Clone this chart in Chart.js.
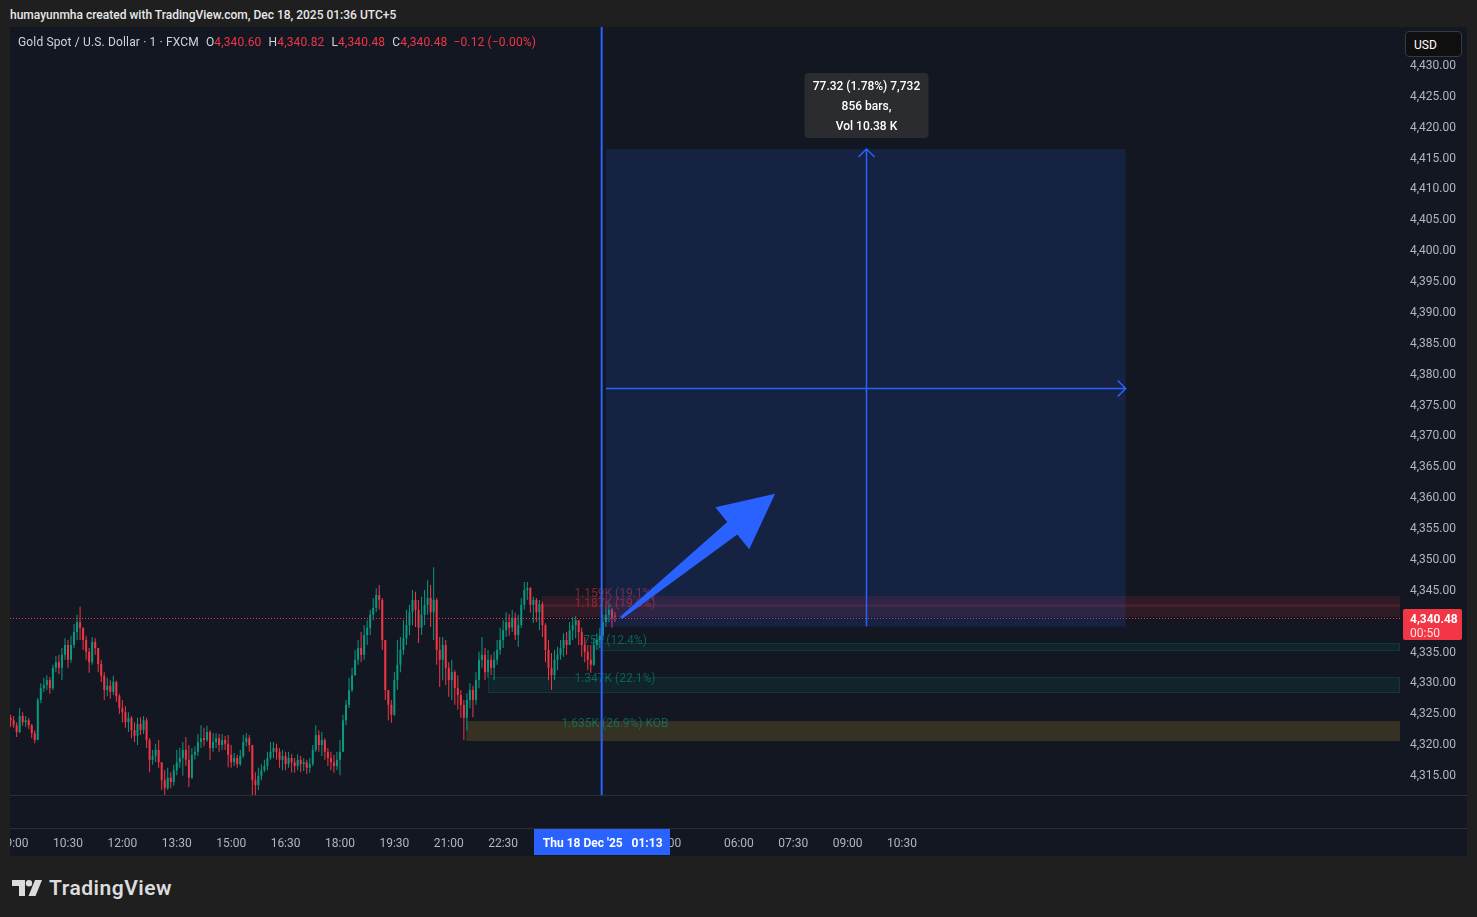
<!DOCTYPE html>
<html>
<head>
<meta charset="utf-8">
<title>XAUUSD 1m - FXCM</title>
<script src="https://cdn.jsdelivr.net/npm/chart.js@4.4.1/dist/chart.umd.min.js"></script>
<style>
  html, body { margin: 0; padding: 0; }
  body { width: 1477px; height: 917px; background: #1f1f1f; font-family: Roboto, "Noto Sans", sans-serif; position: relative; overflow: hidden; }
  #credit { position: absolute; left: 10px; top: 8px; font-size: 12px; font-weight: 500; color: #e8e8e8; white-space: nowrap; }
  #frame { position: absolute; left: 10px; top: 27px; width: 1457px; height: 829px; background: #131722; }
  #chart { position: absolute; left: 0; top: 0; }
  #legend { position: absolute; left: 8px; top: 7px; font-size: 12px; line-height: 16px; letter-spacing: 0.15px; color: #d1d4dc; white-space: nowrap; }
  #legend .k { margin-left: 7px; }
  #legend .v, #legend .chg { color: #f23645; }
  #legend .chg { margin-left: 6px; }
  #usd { position: absolute; left: 1395px; top: 4px; width: 57px; height: 26px; box-sizing: border-box; background: #0f0f0f; border: 1px solid #363a45; border-radius: 4px; color: #fff; font-size: 12px; line-height: 26px; padding-left: 8px; }
  #logo { position: absolute; left: 12px; top: 878px; height: 20px; display: flex; align-items: center; color: #dcdcdc; }
  #logo span { font-size: 21px; font-weight: 600; margin-left: 7px; letter-spacing: 0.5px; }
</style>
</head>
<body>
<div id="credit">humayunmha created with TradingView.com, Dec 18, 2025 01:36 UTC+5</div>
<div id="frame">
  <canvas id="chart" width="1457" height="829"></canvas>
  <div id="legend"></div>
  <div id="usd">USD</div>
</div>
<div id="logo">
  <svg width="30" height="16" viewBox="0 0 30 16">
    <path d="M0 0h13v16h-6v-10h-7z" fill="#dcdcdc"/>
    <circle cx="17" cy="3.2" r="3.2" fill="#dcdcdc"/>
    <path d="M23 0h7l-6.5 16h-7z" fill="#dcdcdc"/>
  </svg>
  <span>TradingView</span>
</div>
<script>
// 5-minute candles, first bar at 08:55 (minute -5 from 09:00 Dec 17)
const firstMinute = -5;
const barStep = 5;

const opens = [
  4324.1, 4323.7, 4322.9, 4321.8, 4324.4, 4323.4, 4323.7, 4322.9, 4321.6, 4320.5,
  4327.0, 4328.9, 4329.4, 4330.2, 4328.9, 4332.2, 4333.1, 4332.2, 4334.3, 4335.9,
  4333.5, 4335.9, 4338.0, 4339.6, 4338.7, 4336.7, 4334.8, 4333.1, 4336.4, 4335.4,
  4332.8, 4330.9, 4328.6, 4329.3, 4328.3, 4329.9, 4327.6, 4325.7, 4325.0, 4323.4,
  4324.1, 4322.1, 4321.2, 4323.1, 4322.1, 4323.7, 4320.5, 4317.3, 4317.9, 4318.9,
  4316.9, 4314.0, 4312.7, 4314.4, 4313.7, 4315.6, 4316.9, 4317.6, 4318.9, 4317.3,
  4314.4, 4318.1, 4318.6, 4320.2, 4320.8, 4320.5, 4321.8, 4319.2, 4320.2, 4320.8,
  4319.7, 4320.5, 4319.9, 4318.1, 4316.9, 4317.6, 4316.6, 4317.9, 4320.2, 4320.8,
  4319.7, 4314.0, 4313.2, 4314.7, 4315.6, 4316.3, 4317.6, 4318.6, 4319.2, 4318.6,
  4317.3, 4317.9, 4316.6, 4317.6, 4316.9, 4316.3, 4317.3, 4316.6, 4316.9, 4316.0,
  4316.6, 4318.9, 4321.3, 4319.7, 4320.5, 4318.6, 4317.6, 4316.9, 4316.3, 4317.3,
  4318.6, 4323.7, 4326.2, 4328.6, 4331.0, 4333.5, 4335.4, 4334.3, 4337.5, 4338.7,
  4340.8, 4341.9, 4344.0, 4343.2, 4336.7, 4328.6, 4326.2, 4324.6, 4330.2, 4332.7,
  4335.1, 4337.0, 4339.1, 4341.2, 4343.2, 4341.6, 4338.7, 4340.8, 4342.4, 4343.5,
  4341.2, 4343.2, 4335.1, 4333.5, 4335.9, 4332.2, 4330.2, 4331.5, 4328.9, 4327.8,
  4326.2, 4324.1, 4327.0, 4328.6, 4327.0, 4330.2, 4333.5, 4334.3, 4331.5, 4333.5,
  4332.2, 4333.5, 4335.1, 4336.7, 4338.3, 4339.6, 4338.7, 4340.3, 4337.5, 4339.1,
  4342.4, 4344.8, 4345.1, 4342.4, 4343.2, 4341.2, 4342.5, 4339.1, 4335.1, 4332.2,
  4331.0, 4333.5, 4334.3, 4335.4, 4336.7, 4335.9, 4338.3, 4339.1, 4339.9, 4338.0,
  4335.9, 4334.8, 4333.5, 4332.7, 4335.9, 4336.7, 4337.4, 4339.6, 4340.8, 4341.6,
  4340.60
];
const highs = [
  4324.6, 4324.4, 4323.4, 4325.7, 4325.0, 4324.4, 4324.1, 4323.1, 4322.1, 4327.3,
  4329.7, 4330.6, 4331.0, 4330.7, 4332.7, 4334.1, 4334.3, 4335.4, 4337.0, 4336.7,
  4337.4, 4339.3, 4340.8, 4342.1, 4338.7, 4337.4, 4335.4, 4337.2, 4337.0, 4335.4,
  4333.5, 4331.5, 4330.6, 4330.2, 4330.9, 4330.1, 4328.0, 4327.0, 4326.0, 4325.0,
  4324.4, 4323.4, 4324.1, 4324.2, 4324.4, 4324.1, 4320.8, 4318.9, 4319.9, 4320.5,
  4316.9, 4315.6, 4316.0, 4315.3, 4316.5, 4318.9, 4319.2, 4320.2, 4321.0, 4319.7,
  4319.2, 4319.5, 4321.5, 4322.9, 4322.5, 4322.8, 4322.1, 4321.6, 4321.6, 4321.5,
  4321.5, 4321.2, 4321.3, 4319.7, 4318.4, 4318.1, 4318.9, 4321.3, 4321.6, 4321.3,
  4319.7, 4315.3, 4316.0, 4316.6, 4317.3, 4318.6, 4320.2, 4320.2, 4319.9, 4319.2,
  4318.9, 4318.6, 4318.6, 4318.2, 4317.6, 4318.2, 4317.9, 4317.6, 4317.3, 4317.6,
  4319.7, 4322.9, 4322.1, 4321.8, 4320.8, 4319.2, 4318.6, 4318.1, 4318.6, 4320.5,
  4324.6, 4327.0, 4330.6, 4332.2, 4335.1, 4336.7, 4338.0, 4339.1, 4339.9, 4341.6,
  4343.5, 4345.1, 4345.6, 4343.5, 4336.7, 4328.6, 4327.0, 4331.5, 4336.7, 4337.2,
  4339.9, 4341.6, 4342.4, 4344.8, 4344.5, 4343.2, 4343.7, 4344.8, 4346.4, 4345.6,
  4348.5, 4343.5, 4337.2, 4337.2, 4336.7, 4333.1, 4333.5, 4331.8, 4331.0, 4328.6,
  4327.0, 4328.1, 4329.7, 4329.3, 4331.5, 4334.8, 4337.2, 4335.4, 4335.1, 4334.3,
  4334.8, 4336.7, 4338.7, 4339.9, 4341.2, 4340.9, 4341.6, 4341.1, 4340.8, 4343.5,
  4346.1, 4346.1, 4345.3, 4343.7, 4343.5, 4343.2, 4342.9, 4339.4, 4336.7, 4334.6,
  4335.1, 4335.6, 4336.7, 4337.8, 4338.0, 4339.6, 4340.4, 4340.6, 4339.9, 4338.7,
  4337.2, 4335.9, 4335.9, 4337.0, 4337.8, 4338.7, 4340.8, 4342.1, 4342.4, 4341.9,
  4341.2
];
const lows = [
  4322.6, 4322.5, 4321.0, 4321.6, 4322.8, 4322.6, 4322.3, 4320.8, 4320.0, 4320.5,
  4326.5, 4328.3, 4328.6, 4328.0, 4328.6, 4331.5, 4331.2, 4330.2, 4333.5, 4332.2,
  4333.0, 4335.4, 4336.7, 4336.7, 4335.1, 4333.5, 4331.4, 4332.7, 4334.3, 4331.5,
  4329.9, 4327.0, 4327.6, 4327.2, 4327.8, 4326.7, 4324.7, 4323.4, 4322.5, 4321.8,
  4320.8, 4320.2, 4319.7, 4321.3, 4321.5, 4319.2, 4315.3, 4316.5, 4316.9, 4316.0,
  4312.4, 4311.3, 4312.4, 4312.7, 4313.1, 4314.8, 4316.0, 4314.7, 4316.3, 4312.9,
  4314.2, 4317.3, 4317.9, 4319.2, 4319.5, 4320.2, 4317.3, 4318.6, 4319.2, 4318.6,
  4318.9, 4318.9, 4316.1, 4316.0, 4316.3, 4316.0, 4316.3, 4317.6, 4319.5, 4318.6,
  4311.6, 4311.3, 4312.4, 4314.0, 4315.3, 4315.6, 4317.3, 4317.6, 4317.3, 4316.0,
  4315.6, 4315.6, 4316.0, 4315.3, 4315.2, 4315.6, 4315.3, 4315.5, 4315.0, 4315.2,
  4316.3, 4318.6, 4318.6, 4317.9, 4317.3, 4316.3, 4315.6, 4315.2, 4315.6, 4314.8,
  4318.6, 4322.9, 4325.7, 4328.3, 4330.9, 4332.7, 4333.1, 4333.5, 4335.9, 4337.5,
  4339.9, 4341.2, 4341.6, 4335.1, 4327.0, 4323.7, 4323.3, 4324.4, 4328.6, 4331.5,
  4334.3, 4335.9, 4337.5, 4339.1, 4338.8, 4336.2, 4337.5, 4339.1, 4340.8, 4338.8,
  4336.7, 4332.7, 4329.1, 4330.2, 4329.4, 4327.5, 4327.0, 4326.2, 4325.4, 4324.1,
  4320.5, 4322.1, 4325.7, 4324.2, 4326.2, 4328.9, 4332.2, 4330.2, 4330.6, 4331.0,
  4330.2, 4332.7, 4334.3, 4335.4, 4337.2, 4337.4, 4338.0, 4336.7, 4335.6, 4338.7,
  4341.6, 4343.2, 4341.1, 4339.5, 4339.6, 4338.3, 4337.2, 4333.1, 4330.2, 4328.6,
  4330.2, 4331.8, 4333.5, 4334.0, 4334.3, 4335.9, 4336.7, 4337.0, 4335.9, 4334.0,
  4333.1, 4331.8, 4331.4, 4332.5, 4335.1, 4335.4, 4336.7, 4338.8, 4339.6, 4338.7,
  4339.6
];
const closes = [
  4323.7, 4322.9, 4321.8, 4324.4, 4323.4, 4323.7, 4322.9, 4321.6, 4320.5, 4327.0,
  4328.9, 4329.4, 4330.2, 4328.9, 4332.2, 4333.1, 4332.2, 4334.3, 4335.9, 4333.5,
  4335.9, 4338.0, 4339.6, 4338.7, 4336.7, 4334.8, 4333.1, 4336.4, 4335.4, 4332.8,
  4330.9, 4328.6, 4329.3, 4328.3, 4329.9, 4327.6, 4325.7, 4325.0, 4323.4, 4324.1,
  4322.1, 4321.2, 4323.1, 4322.1, 4323.7, 4320.5, 4317.3, 4317.9, 4318.9, 4316.9,
  4314.0, 4312.7, 4314.4, 4313.7, 4315.6, 4316.9, 4317.6, 4318.9, 4317.3, 4314.4,
  4318.1, 4318.6, 4320.2, 4320.8, 4320.5, 4321.8, 4319.2, 4320.2, 4320.8, 4319.7,
  4320.5, 4319.9, 4318.1, 4316.9, 4317.6, 4316.6, 4317.9, 4320.2, 4320.8, 4319.7,
  4314.0, 4313.2, 4314.7, 4315.6, 4316.3, 4317.6, 4318.6, 4319.2, 4318.6, 4317.3,
  4317.9, 4316.6, 4317.6, 4316.9, 4316.3, 4317.3, 4316.6, 4316.9, 4316.0, 4316.6,
  4318.9, 4321.3, 4319.7, 4320.5, 4318.6, 4317.6, 4316.9, 4316.3, 4317.3, 4318.6,
  4323.7, 4326.2, 4328.6, 4331.0, 4333.5, 4335.4, 4334.3, 4337.5, 4338.7, 4340.8,
  4341.9, 4344.0, 4343.2, 4336.7, 4328.6, 4326.2, 4324.6, 4330.2, 4332.7, 4335.1,
  4337.0, 4339.1, 4341.2, 4343.2, 4341.6, 4338.7, 4340.8, 4342.4, 4343.5, 4341.2,
  4343.2, 4335.1, 4333.5, 4335.9, 4332.2, 4330.2, 4331.5, 4328.9, 4327.8, 4326.2,
  4324.1, 4327.0, 4328.6, 4327.0, 4330.2, 4333.5, 4334.3, 4331.5, 4333.5, 4332.2,
  4333.5, 4335.1, 4336.7, 4338.3, 4339.6, 4338.7, 4340.3, 4337.5, 4339.1, 4342.4,
  4344.8, 4345.1, 4342.4, 4343.2, 4341.2, 4342.5, 4339.1, 4335.1, 4332.2, 4331.0,
  4333.5, 4334.3, 4335.4, 4336.7, 4335.9, 4338.3, 4339.1, 4339.9, 4338.0, 4335.9,
  4334.8, 4333.5, 4332.7, 4335.9, 4336.7, 4337.4, 4339.6, 4340.8, 4341.6, 4340.3,
  4340.48
];

// time axis: minutes from 09:00, the 03:00-04:00 break is skipped
const tickMinutes = [0, 90, 180, 270, 360, 450, 540, 630, 720, 810, 900, 990, 1080, 1200, 1290, 1380, 1470];
const tickLabels = ['09:00', '10:30', '12:00', '13:30', '15:00', '16:30', '18:00', '19:30', '21:00', '22:30',
  '00:00', '01:30', '03:00', '06:00', '07:30', '09:00', '10:30'];
const priceTicks = [4315, 4320, 4325, 4330, 4335, 4340, 4345, 4350, 4355, 4360, 4365, 4370,
  4375, 4380, 4385, 4390, 4395, 4400, 4405, 4410, 4415, 4420, 4425, 4430];

const legendTitle = 'Gold Spot / U.S. Dollar · 1 · FXCM';
const legendKeys = ['O', 'H', 'L', 'C'];
const legendValues = ['4,340.60', '4,340.82', '4,340.48', '4,340.48'];
const legendChange = '−0.12 (−0.00%)';

const lastPrice = 4340.48;
const countdown = '00:50';

// liquidity zones (start minute, top, bottom, label level), extended to the right
const zoneFrom = [873, 873, 967, 785, 749];
const zoneHigh = [4343.83, 4342.53, 4336.22, 4330.71, 4323.58];
const zoneLow = [4342.05, 4340.43, 4334.92, 4328.12, 4320.35];
const zoneLevel = [4344.3, 4342.7, 4336.7, 4330.6, 4323.3];
const zoneText = ['1.159K (19.1%)', '1.187K (19.6%)', '754 (12.4%)', '1.347K (22.1%)', '1.635K (26.9%) KOB'];
const zoneSide = ['supply', 'supply', 'demand', 'demand', 'block'];

// date/price range tool
const rangeFrom = 980, rangeTo = 1840;
const rangeLow = 4338.90, rangeHigh = 4416.22;
const rangeLines = ['77.32 (1.78%) 7,732', '856 bars,', 'Vol 10.38 K'];

const cursorMinute = 973;
const cursorLabel = "Thu 18 Dec '25   01:13";

const arrowFrom = [1005, 4340.3];
const arrowTo = [1260, 4360.4];

const UP = '#089981', DOWN = '#f23645', BLUE = '#2962ff';
const zoneStyle = {
  supply: { fill: 'rgba(242,54,69,0.13)', text: 'rgba(242,54,69,0.5)' },
  demand: { fill: 'rgba(8,153,129,0.1)', edge: 'rgba(8,153,129,0.18)', text: 'rgba(8,153,129,0.55)' },
  block: { fill: 'rgba(181,150,40,0.22)', text: 'rgba(8,153,129,0.55)' }
};

// legend
const legend = document.getElementById('legend');
let html = legendTitle;
legendKeys.forEach((k, i) => {
  html += '<span class="k">' + k + '</span><span class="v">' + legendValues[i] + '</span>';
});
html += '<span class="chg">' + legendChange + '</span>';
legend.innerHTML = html;

const barX = i => firstMinute + i * barStep;
const wickData = highs.map((h, i) => ({ x: barX(i), y: [lows[i], h] }));
const bodyData = closes.map((c, i) => ({ x: barX(i), y: [opens[i], c] }));
const barColors = closes.map((c, i) => (c >= opens[i] ? UP : DOWN));

const overlay = {
  id: 'overlay',
  beforeDatasetsDraw(chart) {
    const { ctx, chartArea: a, scales: { x, y } } = chart;
    ctx.save();
    ctx.beginPath();
    ctx.rect(a.left, a.top, a.width, a.height);
    ctx.clip();
    zoneFrom.forEach((m, i) => {
      const st = zoneStyle[zoneSide[i]];
      const x0 = x.getPixelForValue(m);
      const y0 = y.getPixelForValue(zoneHigh[i]);
      const y1 = y.getPixelForValue(zoneLow[i]);
      ctx.fillStyle = st.fill;
      ctx.fillRect(x0, y0, a.right - x0, y1 - y0);
      if (st.edge) {
        ctx.strokeStyle = st.edge;
        ctx.lineWidth = 1;
        ctx.strokeRect(x0 + 0.5, y0 + 0.5, a.right - x0 - 1, y1 - y0 - 1);
      }
    });
    ctx.font = '12px Roboto';
    ctx.textAlign = 'center';
    ctx.textBaseline = 'middle';
    const lx = x.getPixelForValue(barX(closes.length - 1));
    zoneText.forEach((t, i) => {
      ctx.fillStyle = zoneStyle[zoneSide[i]].text;
      ctx.fillText(t, lx, y.getPixelForValue(zoneLevel[i]) + 1);
    });
    ctx.restore();
  },
  afterDatasetsDraw(chart) {
    const { ctx, chartArea: a, scales: { x, y } } = chart;
    ctx.save();
    ctx.beginPath();
    ctx.rect(a.left, a.top, a.width, a.height);
    ctx.clip();

    // last price line
    const py = Math.round(y.getPixelForValue(lastPrice)) + 1.5;
    ctx.strokeStyle = DOWN;
    ctx.lineWidth = 1;
    ctx.setLineDash([1, 2]);
    ctx.beginPath();
    ctx.moveTo(a.left, py);
    ctx.lineTo(a.right, py);
    ctx.stroke();
    ctx.setLineDash([]);

    // range box
    const mx0 = x.getPixelForValue(rangeFrom), mx1 = x.getPixelForValue(rangeTo);
    const my0 = y.getPixelForValue(rangeHigh), my1 = y.getPixelForValue(rangeLow);
    ctx.fillStyle = 'rgba(41,98,255,0.15)';
    ctx.fillRect(mx0, my0, mx1 - mx0, my1 - my0);
    const cx = Math.round((mx0 + mx1) / 2) + 0.5, cy = Math.round((my0 + my1) / 2) + 0.5;
    ctx.strokeStyle = BLUE;
    ctx.lineWidth = 1.5;
    ctx.beginPath();
    ctx.moveTo(cx, my1); ctx.lineTo(cx, my0);
    ctx.moveTo(cx - 8, my0 + 8); ctx.lineTo(cx, my0); ctx.lineTo(cx + 8, my0 + 8);
    ctx.moveTo(mx0, cy); ctx.lineTo(mx1, cy);
    ctx.moveTo(mx1 - 8, cy - 8); ctx.lineTo(mx1, cy); ctx.lineTo(mx1 - 8, cy + 8);
    ctx.stroke();

    // range label
    const bw = 124, bh = 65;
    const bx = cx - bw / 2, by = my0 - 11 - bh;
    ctx.fillStyle = '#2b2c30';
    ctx.beginPath();
    ctx.roundRect(bx, by, bw, bh, 4);
    ctx.fill();
    ctx.fillStyle = '#ffffff';
    ctx.font = '500 12px Roboto';
    ctx.textAlign = 'center';
    ctx.textBaseline = 'middle';
    rangeLines.forEach((t, i) => ctx.fillText(t, cx, by + 14 + i * 20));

    // arrow drawing
    const ax0 = x.getPixelForValue(arrowFrom[0]), ay0 = y.getPixelForValue(arrowFrom[1]);
    const ax1 = x.getPixelForValue(arrowTo[0]), ay1 = y.getPixelForValue(arrowTo[1]);
    const len = Math.hypot(ax1 - ax0, ay1 - ay0);
    const ux = (ax1 - ax0) / len, uy = (ay1 - ay0) / len;
    const nx = -uy, ny = ux;
    const headLen = 55, headHalf = 27, shaftHalf = 8, tailHalf = 1.5;
    const hbx = ax1 - ux * headLen, hby = ay1 - uy * headLen;
    ctx.fillStyle = BLUE;
    ctx.beginPath();
    ctx.moveTo(ax0 + nx * tailHalf, ay0 + ny * tailHalf);
    ctx.lineTo(hbx + nx * shaftHalf, hby + ny * shaftHalf);
    ctx.lineTo(hbx + nx * headHalf, hby + ny * headHalf);
    ctx.lineTo(ax1, ay1);
    ctx.lineTo(hbx - nx * headHalf, hby - ny * headHalf);
    ctx.lineTo(hbx - nx * shaftHalf, hby - ny * shaftHalf);
    ctx.lineTo(ax0 - nx * tailHalf, ay0 - ny * tailHalf);
    ctx.closePath();
    ctx.fill();

    // crosshair
    const vx = x.getPixelForValue(cursorMinute);
    ctx.strokeStyle = BLUE;
    ctx.lineWidth = 2;
    ctx.beginPath();
    ctx.moveTo(vx, a.top);
    ctx.lineTo(vx, a.bottom);
    ctx.stroke();
    ctx.restore();
  },
  afterDraw(chart) {
    const { ctx, chartArea: a, scales: { x, y }, width } = chart;
    ctx.save();
    // pane separators
    ctx.strokeStyle = '#2a2e39';
    ctx.lineWidth = 1;
    ctx.beginPath();
    ctx.moveTo(0, a.bottom + 0.5); ctx.lineTo(width, a.bottom + 0.5);
    ctx.moveTo(0, a.bottom + 33.5); ctx.lineTo(width, a.bottom + 33.5);
    ctx.stroke();

    // last price tag
    const py = Math.round(y.getPixelForValue(lastPrice)) + 1;
    ctx.fillStyle = DOWN;
    ctx.beginPath();
    ctx.roundRect(a.right + 3, py - 9, 59, 31, 2);
    ctx.fill();
    ctx.textAlign = 'left';
    ctx.textBaseline = 'middle';
    ctx.fillStyle = '#ffffff';
    ctx.font = 'bold 12px Roboto';
    ctx.fillText(lastPrice.toLocaleString('en-US', { minimumFractionDigits: 2 }), a.right + 10, py + 1.5);
    ctx.font = '12px Roboto';
    ctx.fillStyle = 'rgba(255,255,255,0.85)';
    ctx.fillText(countdown, a.right + 10, py + 15.5);

    // crosshair time label
    const vx = x.getPixelForValue(cursorMinute);
    ctx.fillStyle = BLUE;
    ctx.fillRect(Math.round(vx - 68), a.bottom + 34, 136, 26);
    ctx.fillStyle = '#ffffff';
    ctx.font = 'bold 12px Roboto';
    ctx.textAlign = 'center';
    ctx.fillText(cursorLabel, vx + 1, a.bottom + 48.5);
    ctx.restore();
  }
};

new Chart(document.getElementById('chart'), {
  type: 'bar',
  data: {
    datasets: [
      { label: 'wick', data: wickData, backgroundColor: barColors, barThickness: 1, grouped: false, inflateAmount: 0, order: 2 },
      { label: 'body', data: bodyData, backgroundColor: barColors, barThickness: 2, grouped: false, minBarLength: 1, inflateAmount: 0, order: 1 }
    ]
  },
  options: {
    responsive: false,
    animation: false,
    layout: { padding: 0 },
    font: { family: 'Roboto' },
    plugins: { legend: { display: false }, tooltip: { enabled: false } },
    scales: {
      x: {
        type: 'linear',
        min: -5.96,
        max: 2293.9,
        offset: false,
        grid: { display: false, drawTicks: false },
        border: { display: false },
        ticks: {
          color: '#b2b5be',
          font: { family: 'Roboto', size: 12 },
          padding: 42,
          maxRotation: 0,
          autoSkip: false,
          callback: (v, i) => tickLabels[i]
        },
        afterBuildTicks: s => { s.ticks = tickMinutes.map(v => ({ value: v })); },
        afterFit: s => { s.height = 61; s.paddingLeft = 0; s.paddingRight = 0; }
      },
      y: {
        position: 'right',
        min: 4311.60,
        max: 4435.99,
        grid: { display: false, drawTicks: false },
        border: { display: false },
        ticks: {
          color: '#b2b5be',
          font: { family: 'Roboto', size: 12 },
          padding: 10,
          labelOffset: 2,
          callback: v => v.toLocaleString('en-US', { minimumFractionDigits: 2, maximumFractionDigits: 2 })
        },
        afterBuildTicks: s => { s.ticks = priceTicks.map(v => ({ value: v })); },
        afterFit: s => { s.width = 67; s.paddingTop = 0; s.paddingBottom = 0; }
      }
    }
  },
  plugins: [overlay]
});
</script>
</body>
</html>
